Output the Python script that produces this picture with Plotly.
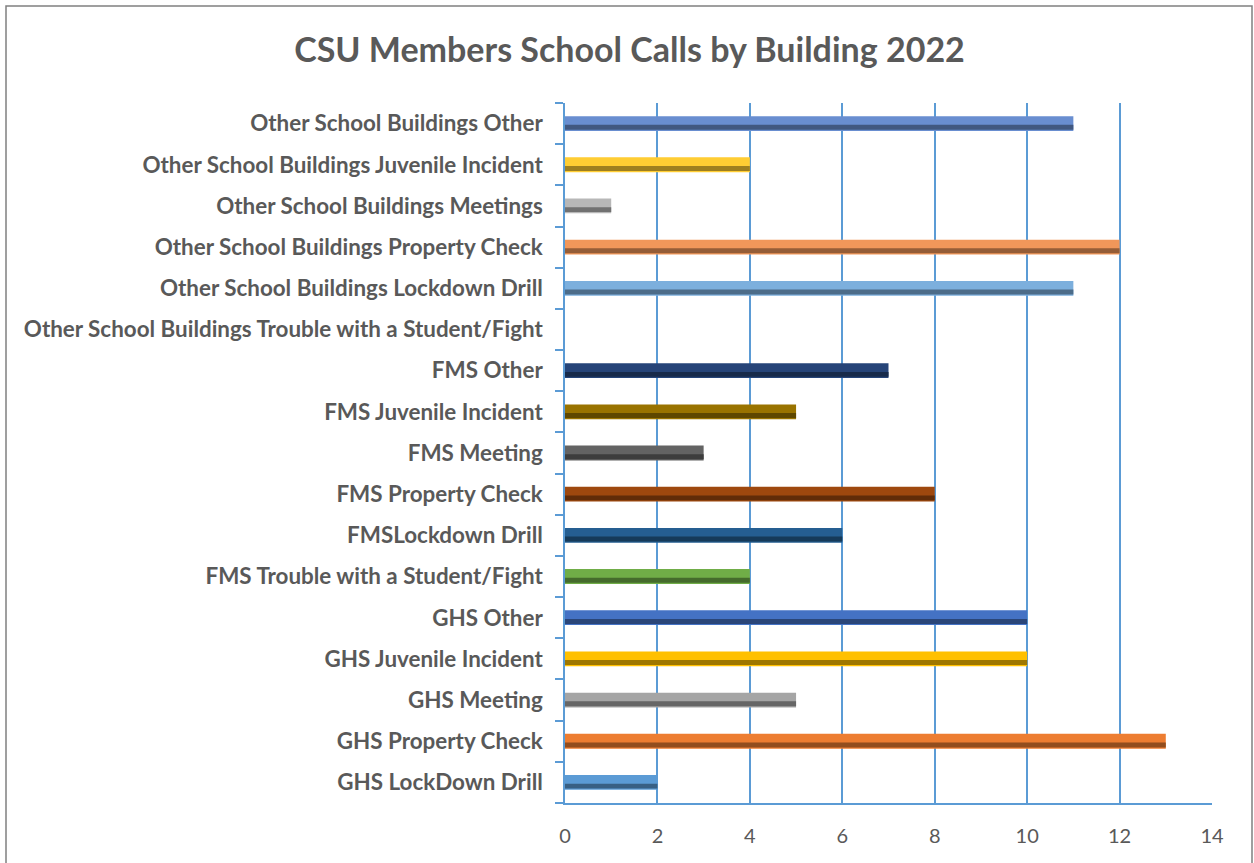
import plotly.graph_objects as go

categories = [
    "GHS LockDown Drill",
    "GHS Property Check",
    "GHS Meeting",
    "GHS Juvenile Incident",
    "GHS Other",
    "FMS Trouble with a Student/Fight",
    "FMSLockdown Drill",
    "FMS Property Check",
    "FMS Meeting",
    "FMS Juvenile Incident",
    "FMS Other",
    "Other School Buildings Trouble with a Student/Fight",
    "Other School Buildings Lockdown Drill",
    "Other School Buildings Property Check",
    "Other School Buildings Meetings",
    "Other School Buildings Juvenile Incident",
    "Other School Buildings Other",
]
values = [2, 13, 5, 10, 10, 4, 6, 8, 3, 5, 7, 0, 11, 12, 1, 4, 11]
colors = [
    "#5B9BD5", "#ED7D31", "#A5A5A5", "#FFC000", "#4472C4",
    "#70AD47", "#255E91", "#9E480E", "#636363", "#997300", "#264478",
    "#43682B", "#7CAFDD", "#F1975A", "#B7B7B7", "#FFCD33", "#698ED0",
]
x_ticks = [0, 2, 4, 6, 8, 10, 12, 14]


def shade(hexc, f):
    h = hexc.lstrip("#")
    r, g, b = (int(h[i:i + 2], 16) for i in (0, 2, 4))
    return "rgb(%d,%d,%d)" % (int(r * f), int(g * f), int(b * f))


fig = go.Figure()
fig.add_trace(go.Bar(
    y=categories, x=values, orientation="h",
    marker=dict(color=colors, line=dict(width=0)),
    width=0.36, offset=-0.18, showlegend=False, hoverinfo="x+y",
))
fig.add_trace(go.Bar(
    y=categories, x=values, orientation="h",
    marker=dict(color=[shade(c, 0.62) for c in colors], line=dict(width=0)),
    width=0.12, offset=-0.15, showlegend=False, hoverinfo="skip",
))

font = "Lato, 'Noto Sans', sans-serif"
W, H = 1254, 863
L, T, R, B = 565, 103, 42, 60
PW, PH = W - L - R, H - T - B
fig.update_layout(
    width=W, height=H,
    margin=dict(l=L, r=R, t=T, b=B),
    paper_bgcolor="white", plot_bgcolor="white",
    barmode="overlay",
    title=dict(
        text="<b>CSU Members School Calls by Building 2022</b>",
        x=629.5 / W, xanchor="center", xref="container",
        y=1 - 50 / H, yanchor="middle", yref="container",
        font=dict(family=font, size=34, color="#595959"),
    ),
    xaxis=dict(
        range=[0, 14], tickvals=x_ticks, ticktext=[str(v) for v in x_ticks],
        showgrid=True, gridcolor="#5B9BD5", gridwidth=1.5,
        zeroline=False, showline=True, linecolor="#5B9BD5", linewidth=1.5,
        ticks="", ticklabelstandoff=14,
        tickfont=dict(family=font, size=20, color="#595959"),
        fixedrange=True,
    ),
    yaxis=dict(
        categoryorder="array", categoryarray=categories,
        range=[-0.5, 16.5],
        showline=True, linecolor="#5B9BD5", linewidth=1.5,
        ticks="outside", ticklen=8, tickcolor="#5B9BD5", tickwidth=1.5,
        tickson="boundaries", showgrid=False,
        tickfont=dict(family=font, size=22.4, color="#595959", weight="bold"),
        ticklabelstandoff=16,
        fixedrange=True,
    ),
    shapes=[dict(
        type="rect", xref="paper", yref="paper",
        x0=(6 - L) / PW, x1=(1252 - L) / PW,
        y0=-(880 - (H - B)) / PH, y1=((H - B) - 6) / PH,
        line=dict(color="#808080", width=1.5), fillcolor="rgba(0,0,0,0)",
        layer="below",
    )],
)

fig.write_html(
    "out.html",
    config={"displayModeBar": False},
    post_script="document.body.style.margin='0';document.body.style.overflow='hidden';",
)
